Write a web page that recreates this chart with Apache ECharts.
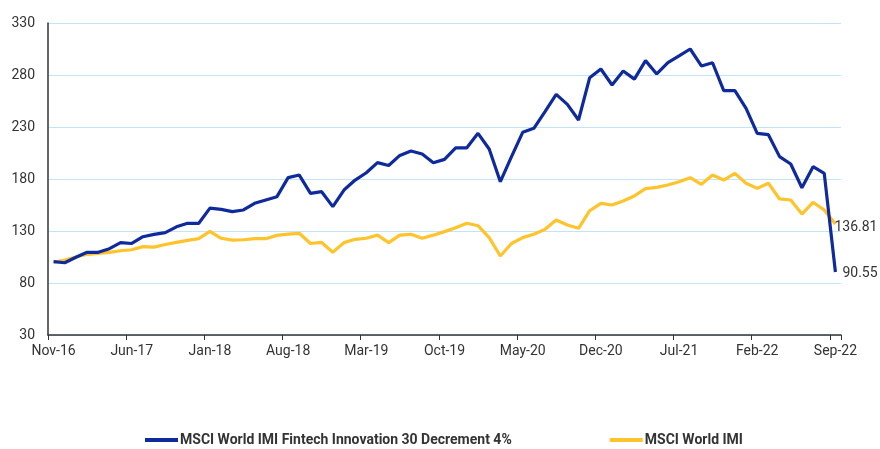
<!DOCTYPE html>
<html>
<head>
<meta charset="utf-8">
<script src="https://cdn.jsdelivr.net/npm/echarts@6/dist/echarts.min.js"></script>
<style>html,body{margin:0;padding:0;background:#fff}#c{width:880px;height:449px}</style>
</head>
<body>
<div id="c"></div>
<script>
const categories = (function(){
  const m=['Jan','Feb','Mar','Apr','May','Jun','Jul','Aug','Sep','Oct','Nov','Dec'];
  const out=[]; let mi=10, y=16;
  for(let i=0;i<71;i++){ out.push(m[mi]+'-'+y); mi++; if(mi===12){mi=0;y++;} }
  return out;
})();
const seriesNames = ['MSCI World IMI Fintech Innovation 30 Decrement 4%', 'MSCI World IMI'];
const fintech = [100.5,99.5,104.7,109.5,109.5,113,118.8,118,124.5,126.8,128.4,134,137.4,137.4,152,150.8,148.6,150.2,156.6,159.8,163,181.3,183.8,166.2,167.8,153.4,169.4,179,186,195.7,193,202.7,206.9,204,195.7,198.9,210,210,223.9,208.8,177.4,201.5,224.9,228.7,244.7,261.4,251.8,236.7,277.4,285.8,270.4,283.8,276,293.8,281,291.8,298.3,305,288.7,291.8,264.9,264.9,248,223.9,222.6,201.5,194.4,171.6,191.8,185.4,90.55];
const world = [100,102,105,107.6,108.5,109.5,111,112,115,114.5,117,119,121,122.6,129.7,123,121.3,121.6,122.6,122.6,125.8,127,127.8,118,119,109.5,118.8,122,123,126,118.8,126,126.8,123,126,129.4,133.2,137.4,135.1,123.6,106,118,123.6,126.8,131.6,140.6,135.8,132.6,149.5,156.6,155,158.8,163.7,170.7,172,174.2,177.4,181.3,174.9,183.8,179,185.4,175.9,171,175.9,160.8,159.8,146.3,157.6,150.2,136.81];
const yTicks = {min:30, max:330, interval:50};

function withEndLabel(arr, offset, dist){
  return arr.map((v,i)=> i===arr.length-1 ? {value:v, label:{show:true, position:'right', distance:dist, offset:offset, formatter:v.toFixed(2), color:'#333', fontSize:14, fontFamily:'Roboto'}} : v);
}

const chart = echarts.init(document.getElementById('c'), null, {renderer:'canvas'});
chart.setOption({
  animation:false,
  grid:{left:48, right:39, top:23, bottom:114, containLabel:false},
  xAxis:{
    type:'category', data:categories, boundaryGap:true,
    axisLine:{lineStyle:{color:'#333', width:1.5}},
    axisTick:{show:true, interval:6, length:5, lineStyle:{color:'#333'}},
    axisLabel:{interval:6, color:'#333', fontSize:14, fontFamily:'Roboto', margin:9},
    splitLine:{show:false}
  },
  yAxis:{
    type:'value', min:yTicks.min, max:yTicks.max, interval:yTicks.interval,
    axisLine:{show:true, lineStyle:{color:'#333', width:1.5}},
    axisTick:{show:false},
    axisLabel:{color:'#333', fontSize:14, fontFamily:'Roboto', margin:13},
    splitLine:{lineStyle:{color:'#c3e4f6', width:1.2}}
  },
  legend:{
    left:145, top:433, padding:0, itemGap:98, itemWidth:33, itemHeight:4, icon:'rect',
    textStyle:{color:'#333', fontSize:14, fontWeight:'bold', fontFamily:'Roboto', padding:[0,0,0,-3]},
    data:seriesNames
  },
  series:[
    {name:seriesNames[0], type:'line', data:withEndLabel(fintech,[0,1],7), showSymbol:true, symbol:'circle', symbolSize:0,
     lineStyle:{color:'#0f2a9c', width:3.2}, itemStyle:{color:'#0f2a9c'}, z:3},
    {name:seriesNames[1], type:'line', data:withEndLabel(world,[0,4],-1), showSymbol:true, symbol:'circle', symbolSize:0,
     lineStyle:{color:'#ffc32b', width:3.2}, itemStyle:{color:'#ffc32b'}, z:2}
  ]
});
</script>
</body>
</html>
